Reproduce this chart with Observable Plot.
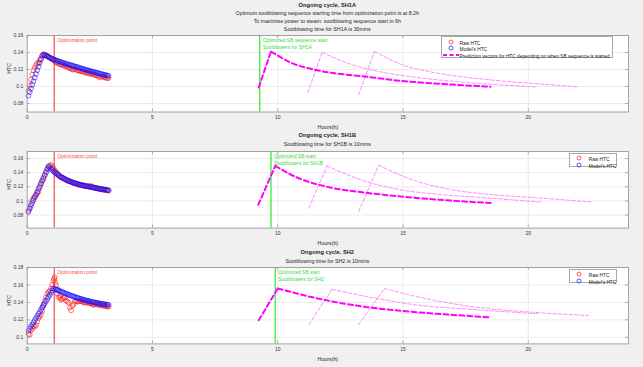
<!DOCTYPE html>
<html><head><meta charset="utf-8">
<script src="https://cdn.jsdelivr.net/npm/d3@7"></script>
<script src="https://cdn.jsdelivr.net/npm/@observablehq/plot@0.6"></script>
<style>
html,body{margin:0;padding:0;background:#f0f0f0;}
#fig{position:relative;width:643px;height:367px;background:#f0f0f0;overflow:hidden;font-family:"Liberation Sans",Arial,sans-serif;}
#fig svg{position:absolute;left:0;}
.t{position:absolute;white-space:nowrap;line-height:1;transform:translate(-50%,-50%);color:#1e1e1e;}
.leg{position:absolute;background:#fff;border:0.8px solid #a8a8a8;box-sizing:border-box;}
.lr{position:absolute;left:0;white-space:nowrap;line-height:1;font-size:4.8px;color:#222;transform:translateY(-50%);}
.lr svg{position:absolute;left:0;top:50%;transform:translateY(-50%);}
</style></head><body><div id="fig"></div>
<script>
// ---------- data ----------
const xTicks = [0, 5, 10, 15, 20];
const gridX = [5, 10, 15, 20];
const yTicksSH1A = [0.08, 0.1, 0.12, 0.14, 0.16];
const yTicksSH1B = [0.08, 0.1, 0.12, 0.14, 0.16];
const yTicksSH2 = [0.1, 0.12, 0.14, 0.16, 0.18];

const hours = [0.05,0.10,0.15,0.20,0.25,0.30,0.35,0.40,0.45,0.50,0.55,0.60,0.65,0.70,0.75,0.80,0.85,0.90,0.95,1.00,
  1.05,1.10,1.15,1.20,1.25,1.30,1.35,1.40,1.45,1.50,1.55,1.60,1.65,1.70,1.75,1.80,1.85,1.90,1.95,2.00,
  2.05,2.10,2.15,2.20,2.25,2.30,2.35,2.40,2.45,2.50,2.55,2.60,2.65,2.70,2.75,2.80,2.85,2.90,2.95,3.00,
  3.05,3.10,3.15,3.20,3.25];

// SH1A
const sh1aRaw = [0.095,0.101,0.108,0.114,0.119,0.122,0.125,0.127,0.128,0.131,0.133,0.136,0.138,0.137,0.137,0.136,0.135,0.134,0.133,0.132,
  0.131,0.130,0.128,0.128,0.127,0.126,0.126,0.125,0.125,0.124,0.124,0.123,0.122,0.122,0.121,0.120,0.120,0.121,0.120,0.119,
  0.119,0.118,0.118,0.118,0.117,0.117,0.116,0.116,0.116,0.115,0.115,0.115,0.114,0.114,0.113,0.113,0.112,0.111,0.1115,0.112,
  0.111,0.111,0.110,0.110,0.110];
const sh1aModel = [0.0890,0.0933,0.0976,0.1019,0.1062,0.1105,0.1148,0.1191,0.1234,0.1277,0.1320,0.1363,0.1375,0.1370,0.1363,0.1355,0.1347,0.1340,0.1333,0.1326,
  0.1320,0.1314,0.1308,0.1302,0.1297,0.1292,0.1287,0.1282,0.1277,0.1272,0.1267,0.1263,0.1258,0.1254,0.1249,0.1245,0.1240,0.1236,0.1232,0.1228,
  0.1223,0.1218,0.1214,0.1209,0.1205,0.1200,0.1196,0.1192,0.1187,0.1183,0.1179,0.1175,0.1171,0.1167,0.1163,0.1159,0.1155,0.1151,0.1147,0.1143,
  0.1139,0.1136,0.1132,0.1129,0.1125];
const sh1aP1h = [9.24,9.73,10.51,11.57,13.57,14.9,16.23,18.49];
const sh1aP1v = [0.0988,0.1412,0.1282,0.1192,0.1114,0.1067,0.1036,0.0998];
const sh1aP2h = [11.2,11.77,12.9,14.23,15.56,17.56,20.28];
const sh1aP2v = [0.0929,0.1400,0.1263,0.1165,0.1106,0.1047,0.0996];
const sh1aP3h = [13.23,13.86,14.9,16.23,18.22,20.2,22.0];
const sh1aP3v = [0.0902,0.1412,0.1263,0.1165,0.1086,0.1035,0.0996];

// SH1B
const sh1bRaw = [0.086,0.090,0.095,0.101,0.104,0.106,0.108,0.111,0.113,0.119,0.124,0.128,0.131,0.136,0.140,0.145,0.148,0.150,0.151,0.148,
  0.146,0.143,0.141,0.139,0.137,0.135,0.133,0.133,0.132,0.131,0.130,0.129,0.128,0.128,0.127,0.126,0.125,0.125,0.1245,0.124,
  0.123,0.123,0.122,0.122,0.122,0.121,0.121,0.121,0.1205,0.121,0.121,0.120,0.119,0.119,0.118,0.118,0.117,0.117,0.1165,0.116,
  0.116,0.1155,0.115,0.115,0.1145];
const sh1bModel = [0.085,0.089,0.093,0.097,0.101,0.105,0.109,0.113,0.117,0.121,0.125,0.129,0.133,0.137,0.141,0.145,0.149,0.1472,0.1455,0.1437,
  0.1420,0.1405,0.1390,0.1376,0.1362,0.1351,0.1340,0.1330,0.1320,0.1310,0.1300,0.1291,0.1283,0.1276,0.1270,0.1264,0.1258,0.1252,0.1246,0.1241,
  0.1236,0.1231,0.1227,0.1222,0.1218,0.1214,0.1210,0.1206,0.1202,0.1198,0.1195,0.1191,0.1188,0.1184,0.1181,0.1178,0.1175,0.1172,0.1169,0.1166,
  0.1163,0.1160,0.1157,0.1154,0.1151];
const sh1bP1h = [9.22,9.9,10.77,12.1,13.43,15.03,16.5,18.5];
const sh1bP1v = [0.0943,0.1495,0.1332,0.119,0.112,0.1059,0.1015,0.097];
const sh1bP2h = [11.24,11.97,13.43,14.76,16.5,18.09,20.5];
const sh1bP2v = [0.0899,0.1497,0.1285,0.1167,0.109,0.1049,0.0985];
const sh1bP3h = [13.23,14.03,15.49,16.82,18.5,20.15,22.5];
const sh1bP3v = [0.085,0.1505,0.1285,0.1167,0.109,0.1049,0.0985];

// SH2
const sh2Raw = [0.104,0.103,0.108,0.110,0.113,0.112,0.114,0.118,0.122,0.124,0.126,0.130,0.138,0.142,0.146,0.150,0.152,0.153,0.156,0.160,
  0.165,0.169,0.160,0.150,0.146,0.148,0.143,0.144,0.145,0.146,0.142,0.141,0.140,0.134,0.131,0.136,0.138,0.141,0.142,0.141,
  0.141,0.142,0.1415,0.141,0.140,0.140,0.140,0.1395,0.1395,0.139,0.139,0.138,0.137,0.138,0.138,0.1375,0.1375,0.137,0.137,0.1365,
  0.136,0.136,0.1355,0.1355,0.135];
const sh2RawExtraH = [1.08, 1.12, 1.22, 1.32, 0.62];
const sh2RawExtra = [0.167, 0.163, 0.155, 0.145, 0.135];
const sh2Model = [0.1075,0.1099,0.1124,0.1148,0.1172,0.1196,0.1221,0.1245,0.1269,0.1293,0.1318,0.1342,0.1366,0.1390,0.1415,0.1439,0.1463,0.1487,0.1512,0.1536,
  0.1560,0.1554,0.1548,0.1542,0.1536,0.1530,0.1524,0.1518,0.1512,0.1506,0.1500,0.1494,0.1489,0.1483,0.1478,0.1473,0.1468,0.1463,0.1458,0.1453,
  0.1449,0.1444,0.1440,0.1435,0.1431,0.1427,0.1423,0.1419,0.1416,0.1412,0.1409,0.1406,0.1403,0.1400,0.1397,0.1394,0.1391,0.1388,0.1386,0.1383,
  0.1381,0.1378,0.1376,0.1374,0.1372];
const sh2P1h = [9.24,10.0,11.44,13.43,15.03,18.09,18.5];
const sh2P1v = [0.1195,0.156,0.1455,0.1351,0.1301,0.1236,0.1228];
const sh2P2h = [11.24,12.17,13.43,15.43,18.09,20.4];
const sh2P2v = [0.1148,0.155,0.1474,0.1375,0.1313,0.127];
const sh2P3h = [13.23,14.26,15.43,18.09,20.3,22.4];
const sh2P3v = [0.1148,0.1558,0.1474,0.134,0.1285,0.125];

const optPoint = [1.08, 1.08, 1.08];   // optimization point (h)
const sbStart = [9.28, 9.73, 9.9];     // optimized SB start (h)

const titles = ["Ongoing cycle, SH1A", "Ongoing cycle, SH1B", "Ongoing cycle, SH2"];
const subtitles = [
  ["Optimum sootblowing sequence starting time from optimization point is at 8.2h",
   "To maximise power to steam: sootblowing sequence start in 6h",
   "Sootblowing time for SH1A is 30mins"],
  ["Sootblowing time for SH1B is 10mins"],
  ["Sootblowing time for SH2 is 10mins"]
];
const sbLabels = ["Optimized SB sequence start\nSootblowers for SH1A", "Optimized SB start\nSootblowers for SH1B", "Optimized SB start\nSootblowers for SH2"];
const legendLabels = ["Raw HTC", "Model's HTC", "Prediction vectors for HTC depending on when SB sequence is started"];

// ---------- styling ----------
const RED = "#ff1a1a", BLUE = "#1010ff", MAG = "#ff00ff", MAGL = "#ff88ff";
const REDLINE = "#f45c5c", GREENLINE = "#44ee44", GREENTXT = "#33dd33";
const FONT = "Liberation Sans, Arial, sans-serif";

function rows(h, v) { return h.map((x, i) => ({x, y: v[i]})); }
function predRows(h, v) {
  const r = [{x: h[0], y: v[0], s: "rise"}, {x: h[1], y: v[1], s: "rise"}];
  for (let i = 1; i < h.length; i++) r.push({x: h[i], y: v[i], s: "decay"});
  return r;
}

const fig = document.getElementById("fig");
const W = 643, ML = 26.7, MR = 15, MT = 6, MB = 22;

function panel(cfg) {
  const boxH = cfg.bottom - cfg.top;
  const boxW = W - ML - MR;
  const tk = 3;
  const marks = [
    Plot.frame({fill: "white", stroke: null}),
    Plot.ruleX(gridX, {x: d => d, stroke: "#e6e6e6", strokeWidth: 0.8}),
    Plot.ruleY(cfg.yTicks, {y: d => d, stroke: "#e6e6e6", strokeWidth: 0.8}),
    Plot.ruleX(xTicks, {x: d => d, insetTop: boxH - tk, stroke: "#9a9a9a", strokeWidth: 0.8}),
    Plot.ruleX(xTicks, {x: d => d, insetBottom: boxH - tk, stroke: "#9a9a9a", strokeWidth: 0.8}),
    Plot.ruleY(cfg.yTicks, {y: d => d, insetRight: boxW - tk, stroke: "#9a9a9a", strokeWidth: 0.8}),
    Plot.ruleY(cfg.yTicks, {y: d => d, insetLeft: boxW - tk, stroke: "#9a9a9a", strokeWidth: 0.8}),
    Plot.ruleX([cfg.opt], {x: d => d, stroke: REDLINE, strokeWidth: 1.3}),
    Plot.ruleX([cfg.sb], {x: d => d, stroke: GREENLINE, strokeWidth: 1.4}),
    Plot.dot(cfg.raw, {x: "x", y: "y", r: 2.4, stroke: RED, fill: "none", strokeWidth: 0.6}),
    Plot.dot(cfg.model, {x: "x", y: "y", r: 2.4, stroke: BLUE, fill: "none", strokeWidth: 0.6}),
    Plot.line(cfg.p2, {x: "x", y: "y", z: "s", curve: "monotone-x", stroke: MAGL, strokeWidth: 1, strokeDasharray: "3.5,2"}),
    Plot.line(cfg.p3, {x: "x", y: "y", z: "s", curve: "monotone-x", stroke: MAGL, strokeWidth: 1, strokeDasharray: "3.5,2"}),
    Plot.line(cfg.p1, {x: "x", y: "y", z: "s", curve: "monotone-x", stroke: MAG, strokeWidth: 2, strokeDasharray: "5,3"}),
    Plot.text([cfg.opt], {x: d => d, frameAnchor: "top", dx: 3, dy: 4.5, text: () => "Optimization point", textAnchor: "start", lineAnchor: "middle", fill: "#ff4a4a", fontSize: 5}),
    Plot.text([cfg.sb], {x: d => d, frameAnchor: "top", dx: 3, dy: 2, text: () => cfg.sbLabel, textAnchor: "start", lineAnchor: "top", lineHeight: 1.3, fill: GREENTXT, fontSize: 5}),
    Plot.axisX(xTicks, {tickSize: 0, tickPadding: 3.5, tickFormat: d => String(d), fontSize: 5, fill: "#333", label: null}),
    Plot.axisY(cfg.yTicks, {tickSize: 0, tickPadding: 4, tickFormat: d => String(d), fontSize: 5, fill: "#333", label: null}),
    Plot.text(["HTC"], {frameAnchor: "left", dx: -18, rotate: -90, fontSize: 5.3, fill: "#222"}),
    Plot.text(["Hours(h)"], {frameAnchor: "bottom", dy: 15, lineAnchor: "middle", fontSize: 5.3, fill: "#222"}),
    Plot.frame({stroke: "#9a9a9a", strokeWidth: 0.9})
  ];
  const svg = Plot.plot({
    width: W, height: MT + boxH + MB,
    marginTop: MT, marginBottom: MB, marginLeft: ML, marginRight: MR,
    x: {domain: [0, 24]},
    y: {domain: cfg.yDomain},
    style: {background: "transparent", fontFamily: FONT, fontSize: "5px", overflow: "visible"},
    marks
  });
  svg.style.top = (cfg.top - MT) + "px";
  fig.appendChild(svg);
}

function text(str, x, y, size, bold, color) {
  const d = document.createElement("div");
  d.className = "t";
  d.textContent = str;
  d.style.left = x + "px"; d.style.top = y + "px";
  d.style.fontSize = size + "px";
  if (bold) d.style.fontWeight = "bold";
  if (color) d.style.color = color;
  fig.appendChild(d);
}

function legend(left, top, w, h, items) {
  const box = document.createElement("div");
  box.className = "leg";
  Object.assign(box.style, {left: left + "px", top: top + "px", width: w + "px", height: h + "px"});
  for (const it of items) {
    const r = document.createElement("div");
    r.className = "lr";
    r.style.top = it.cy + "px";
    r.style.width = w + "px";
    let sym;
    if (it.type === "circle") {
      sym = `<svg width="20" height="6" style="left:${it.sx - 10}px"><circle cx="10" cy="3" r="2" fill="none" stroke="${it.color}" stroke-width="0.7"/></svg>`;
    } else {
      sym = `<svg width="18" height="6" style="left:${it.sx - 9}px"><line x1="1" y1="3" x2="17" y2="3" stroke="${it.color}" stroke-width="2" stroke-dasharray="4,2.5"/></svg>`;
    }
    r.innerHTML = sym + `<span style="position:absolute;left:${it.tx}px;top:0;">${it.label}</span>`;
    box.appendChild(r);
  }
  fig.appendChild(box);
}

// ---------- panels ----------
panel({top: 34.5, bottom: 111, yDomain: [0.07, 0.16], yTicks: yTicksSH1A,
  raw: rows(hours, sh1aRaw), model: rows(hours, sh1aModel),
  p1: predRows(sh1aP1h, sh1aP1v), p2: predRows(sh1aP2h, sh1aP2v), p3: predRows(sh1aP3h, sh1aP3v),
  opt: optPoint[0], sb: sbStart[0], sbLabel: sbLabels[0]});
panel({top: 150.7, bottom: 227.3, yDomain: [0.0615, 0.17], yTicks: yTicksSH1B,
  raw: rows(hours, sh1bRaw), model: rows(hours, sh1bModel),
  p1: predRows(sh1bP1h, sh1bP1v), p2: predRows(sh1bP2h, sh1bP2v), p3: predRows(sh1bP3h, sh1bP3v),
  opt: optPoint[1], sb: sbStart[1], sbLabel: sbLabels[1]});
panel({top: 266.6, bottom: 343, yDomain: [0.0925, 0.18], yTicks: yTicksSH2,
  raw: rows(hours, sh2Raw).concat(rows(sh2RawExtraH, sh2RawExtra)), model: rows(hours, sh2Model),
  p1: predRows(sh2P1h, sh2P1v), p2: predRows(sh2P2h, sh2P2v), p3: predRows(sh2P3h, sh2P3v),
  opt: optPoint[2], sb: sbStart[2], sbLabel: sbLabels[2]});

// ---------- titles ----------
const cx = 327.3;
text(titles[0], cx, 5.7, 5.7, true);
text(subtitles[0][0], cx, 14.3, 5.3);
text(subtitles[0][1], cx, 22, 5.3);
text(subtitles[0][2], cx, 29.5, 5.3);
text(titles[1], cx, 136, 5.7, true);
text(subtitles[1][0], cx, 145.2, 5.3);
text(titles[2], cx, 252.8, 5.7, true);
text(subtitles[2][0], cx, 261.6, 5.3);

// ---------- legends ----------
legend(440.5, 36, 172.5, 22, [
  {type: "circle", color: RED, label: legendLabels[0], cy: 5, sx: 9, tx: 18},
  {type: "circle", color: BLUE, label: legendLabels[1], cy: 10.7, sx: 9, tx: 18},
  {type: "dash", color: MAG, label: legendLabels[2], cy: 17.5, sx: 9, tx: 18}
]);
legend(569, 153, 48, 14, [
  {type: "circle", color: RED, label: legendLabels[0], cy: 4, sx: 9.3, tx: 18.7},
  {type: "circle", color: BLUE, label: legendLabels[1], cy: 10.5, sx: 9.3, tx: 18.7}
]);
legend(569, 269, 48, 14, [
  {type: "circle", color: RED, label: legendLabels[0], cy: 4.2, sx: 9.3, tx: 18.7},
  {type: "circle", color: BLUE, label: legendLabels[1], cy: 10.8, sx: 9.3, tx: 18.7}
]);
</script></body></html>
